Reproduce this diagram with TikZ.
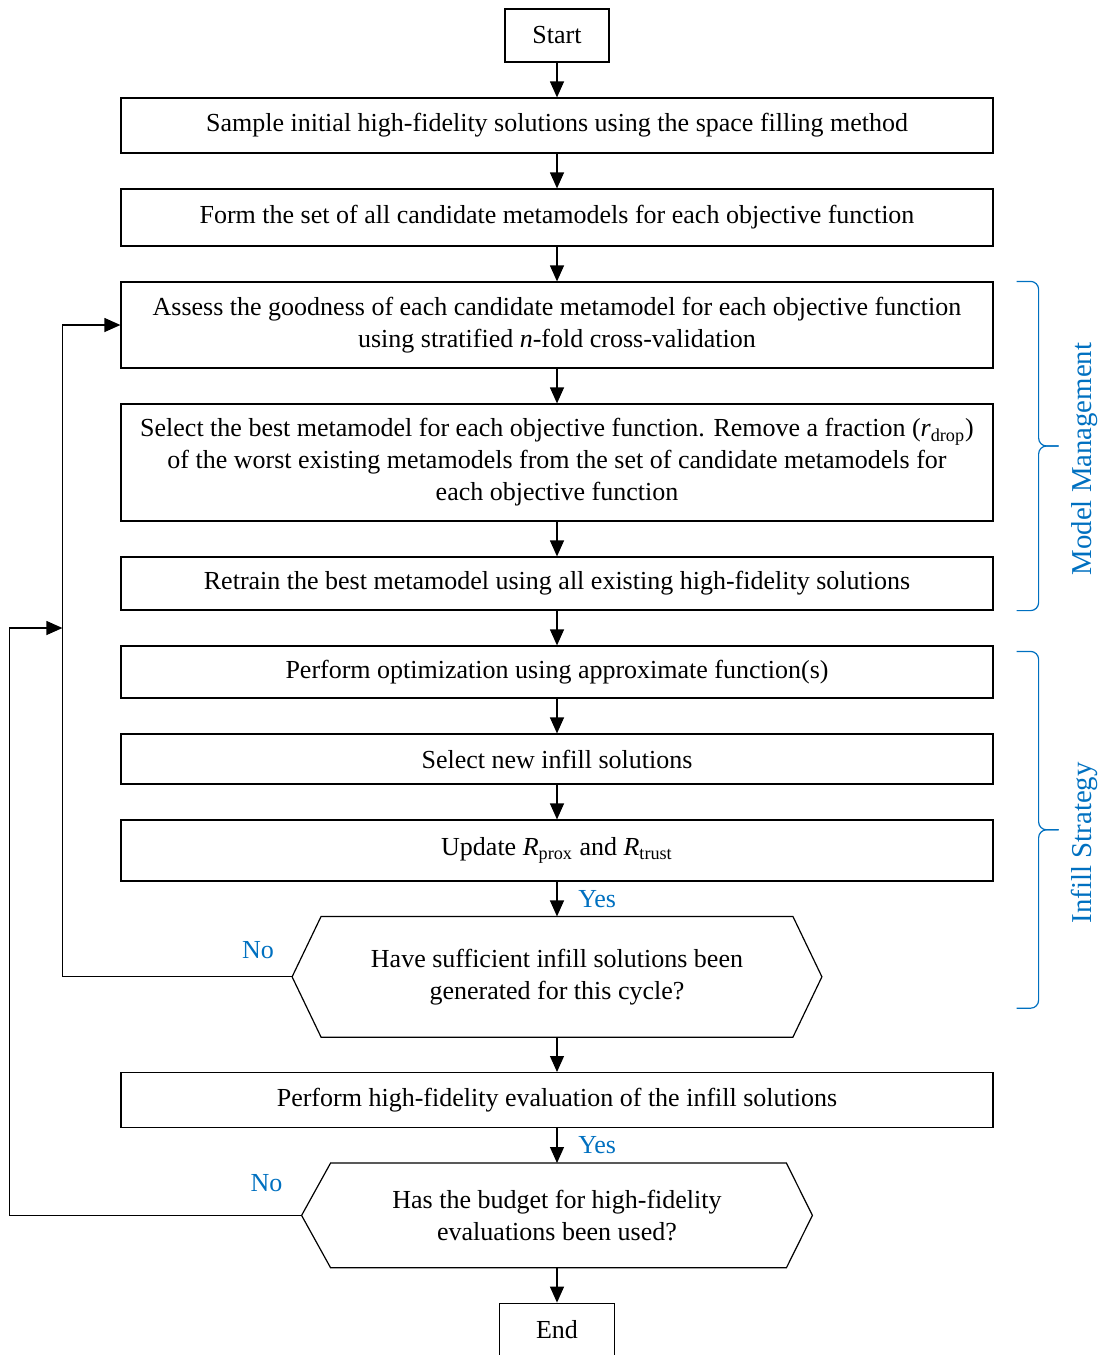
\documentclass[tikz,border=0pt]{standalone}
\usepackage{fontspec}
\setmainfont{Liberation Serif}
\usepackage{xcolor}
\usetikzlibrary{arrows.meta,positioning,calc}
\definecolor{msblue}{HTML}{0070C0}

\begin{document}
\begin{tikzpicture}[
  node distance=17.4pt,
  proc/.style={rectangle,draw,line width=0.6pt,minimum width=436pt,align=center,font=\fontsize{13}{16}\selectfont},
  term/.style={proc,minimum width=52pt,minimum height=26.5pt},
  decision/.style={rectangle,minimum width=264.5pt,minimum height=60pt,align=center,font=\fontsize{13}{16}\selectfont},
  hexline/.style={draw,line width=0.6pt},
  flow/.style={draw,line width=0.6pt,-{Triangle[length=8pt,width=7pt]}},
  lbl/.style={font=\fontsize{13}{16}\selectfont,text=msblue},
  grp/.style={draw=msblue,line width=0.6pt,rounded corners=4pt},
  grplbl/.style={font=\fontsize{14.4}{17}\selectfont,text=msblue,rotate=90,anchor=north}
]
\useasboundingbox (0,0) rectangle (553.5pt,-677.5pt);
% main column, top to bottom
\node[term] (start) at (278.5pt,-17.75pt) {Start};
\node[proc,minimum height=27.5pt,below=of start] (sample) {Sample initial high-fidelity solutions using the space filling method};
\node[proc,minimum height=28.5pt,below=of sample] (form) {Form the set of all candidate metamodels for each objective function};
\node[proc,minimum height=43pt,below=of form] (assess) {Assess the goodness of each candidate metamodel for each objective function\\using stratified \textit{n}-fold cross-validation};
\node[proc,minimum height=58.5pt,below=of assess] (select) {Select the best metamodel for each objective function. Remove a fraction (\textit{r}\textsubscript{drop})\\of the worst existing metamodels from the set of candidate metamodels for\\each objective function};
\node[proc,minimum height=26.5pt,below=of select] (retrain) {Retrain the best metamodel using all existing high-fidelity solutions};
\node[proc,minimum height=26pt,below=of retrain] (perform) {Perform optimization using approximate function(s)};
\node[proc,minimum height=25pt,below=of perform] (infill) {Select new infill solutions};
\node[proc,minimum height=30.5pt,below=of infill] (update) {Update \textit{R}\textsubscript{prox} and \textit{R}\textsubscript{trust}};
\node[decision,below=of update] (q1) {Have sufficient infill solutions been\\generated for this cycle?};
\node[proc,minimum height=27.5pt,below=of q1] (hfeval) {Perform high-fidelity evaluation of the infill solutions};
\node[decision,minimum width=255pt,minimum height=52pt,below=of hfeval] (q2) {Has the budget for high-fidelity\\evaluations been used?};
\node[term,minimum width=57.5pt,minimum height=26pt,below=of q2] (finish) {End};

% hexagon outlines of the two decisions
\draw[hexline] (q1.west) -- ([xshift=14.5pt]q1.north west) -- ([xshift=-14.5pt]q1.north east) -- (q1.east)
  -- ([xshift=-14.5pt]q1.south east) -- ([xshift=14.5pt]q1.south west) -- cycle;
\draw[hexline] (q2.west) -- ([xshift=14.5pt]q2.north west) -- ([xshift=-13pt]q2.north east) -- (q2.east)
  -- ([xshift=-13pt]q2.south east) -- ([xshift=14.5pt]q2.south west) -- cycle;

% spine arrows
\draw[flow] (start) -- (sample);
\draw[flow] (sample) -- (form);
\draw[flow] (form) -- (assess);
\draw[flow] (assess) -- (select);
\draw[flow] (select) -- (retrain);
\draw[flow] (retrain) -- (perform);
\draw[flow] (perform) -- (infill);
\draw[flow] (infill) -- (update);
\draw[flow] (update) -- node[lbl,right=7pt] (yes1) {Yes} (q1);
\draw[flow] (q1) -- (hfeval);
\draw[flow] (hfeval) -- node[lbl,right=7pt] (yes2) {Yes} (q2);
\draw[flow] (q2) -- (finish);

% feedback loops on the left
\coordinate[left=29pt of assess.west] (lpin);
\path (retrain.south) -- (perform.north) coordinate[midway] (gap);
\coordinate (jn) at (lpin |- gap);
\coordinate[left=26.5pt of jn] (lpout);
\draw[flow] (q1.west) -| (lpin) -- (assess.west);
\draw[flow] (q2.west) -| (lpout) -- (jn);
\node[lbl] (no1) at ([xshift=-17pt,yshift=13.5pt]q1.west) {No};
\node[lbl] (no2) at ([xshift=-17.5pt,yshift=16pt]q2.west) {No};

% group braces on the right
\coordinate[right=11.5pt of retrain.east] (b0);
\coordinate[right=22.5pt of retrain.east] (b1);
\coordinate[right=32.5pt of retrain.east] (b2);
\path (assess.north) -- (retrain.south) coordinate[midway] (mmmid);
\coordinate (mmtip) at (b2 |- mmmid);
\draw[grp] (b0 |- assess.north) -- (b1 |- assess.north) -- (b1 |- mmmid) -- (mmtip);
\draw[grp] (b0 |- retrain.south) -- (b1 |- retrain.south) -- (b1 |- mmmid) -- (mmtip);
\node[grplbl] (mmlbl) at ([xshift=3pt,yshift=-6.5pt]mmtip) {Model Management};

\coordinate[below=3pt of perform.north] (isT);
\coordinate[above=14.5pt of q1.south] (isB);
\path (isT) -- (isB) coordinate[midway] (ismid);
\coordinate (istip) at (b2 |- ismid);
\draw[grp] (b0 |- isT) -- (b1 |- isT) -- (b1 |- ismid) -- (istip);
\draw[grp] (b0 |- isB) -- (b1 |- isB) -- (b1 |- ismid) -- (istip);
\node[grplbl] (islbl) at ([xshift=3pt,yshift=-6.5pt]istip) {Infill Strategy};
\end{tikzpicture}
\end{document}
